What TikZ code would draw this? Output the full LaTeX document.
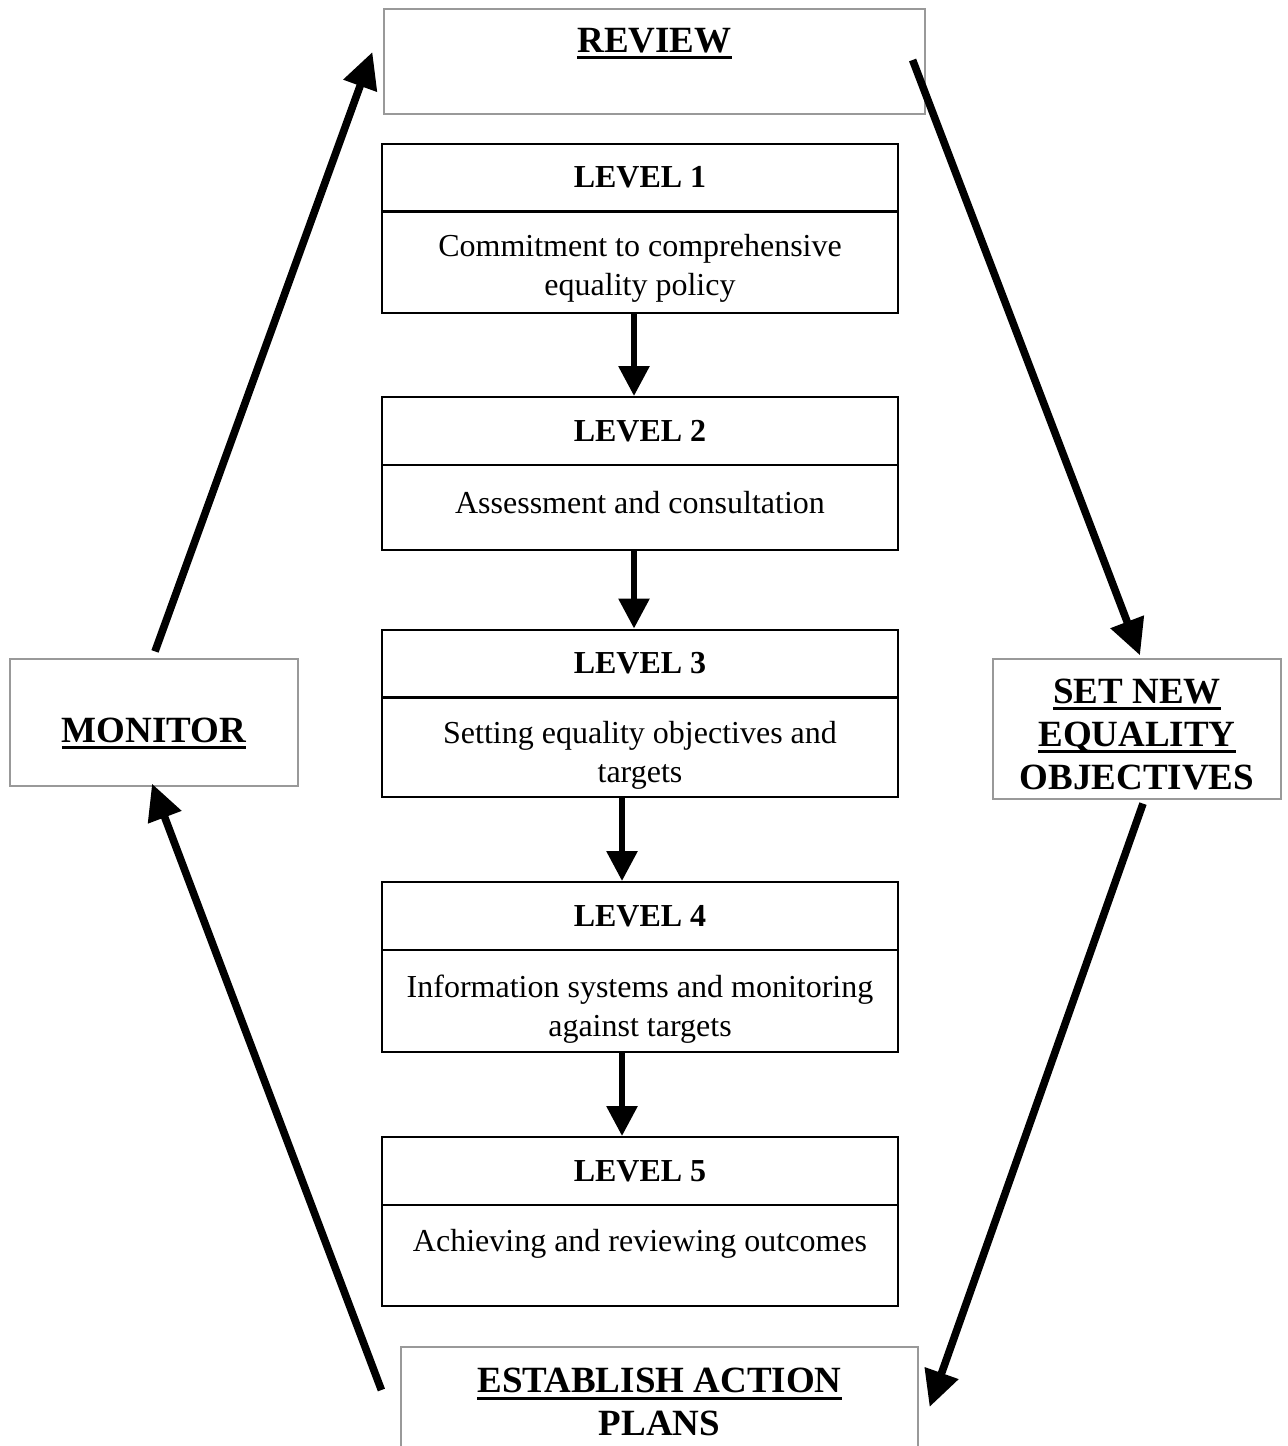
\documentclass[tikz,border=0pt]{standalone}
\usepackage{fontspec}
\setmainfont{Liberation Serif}
\usetikzlibrary{arrows.meta}
\newcommand{\ulword}[1]{\setbox0=\hbox{#1}\rlap{\copy0}\rule[-3.5pt]{\wd0}{1.5pt}}

\begin{document}
\begin{tikzpicture}[x=0.5pt,y=-0.5pt,>={Triangle[length=15pt,width=15pt]},
    outerbox/.style={draw=gray!80,line width=0.6pt,inner sep=0pt,align=center,font=\fontsize{18.5}{21.5}\selectfont\bfseries},
    lvhead/.style={draw,line width=1pt,inner sep=0pt,minimum width=258pt,minimum height=34pt,font=\fontsize{16}{19.5}\selectfont\bfseries},
    lvbody/.style={draw,line width=1pt,inner sep=0pt,minimum width=258pt,align=center,font=\fontsize{16}{19.5}\selectfont},
    stepline/.style={->,line width=3pt},
    loopline/.style={->,line width=3.8pt,>={Triangle[length=18pt,width=17pt]}}]
    \clip (0,0) rectangle (1288,1446);
    \useasboundingbox (0,0) rectangle (1288,1446);

    \node[outerbox,minimum width=270.5pt,minimum height=52.5pt] (review) at (654.5,61.5) {\ulword{REVIEW}\\\mbox{}};
    \node[outerbox,minimum width=144pt,minimum height=63.5pt,text height=23.3pt,text depth=3.5pt] (monitor) at (154,722.5) {\ulword{MONITOR}};
    \node[outerbox,minimum width=144pt,minimum height=70pt] (setnew) at (1137,729) {\rule{0pt}{17.3pt}\ulword{SET NEW}\\\ulword{EQUALITY}\\OBJECTIVES};
    \node[outerbox,minimum width=258.5pt,minimum height=59pt] (establish) at (659.5,1406) {\ulword{ESTABLISH ACTION}\\PLANS\rule[-4pt]{0pt}{4pt}};

    % levels
    \node[lvhead] (lv1t) at (640,177.5) {LEVEL 1};
    \node[lvbody,minimum height=51pt] (lv1b) at (640,262) {\rule{0pt}{17pt}Commitment to comprehensive\\equality policy};
    \node[lvhead] (lv2t) at (640,431) {LEVEL 2};
    \node[lvbody,minimum height=42.5pt] (lv2b) at (640,507.5) {Assessment and consultation\rule[-5pt]{0pt}{5pt}};
    \node[lvhead] (lv3t) at (640,663.5) {LEVEL 3};
    \node[lvbody,minimum height=50pt] (lv3b) at (640,747) {\rule{0pt}{19pt}Setting equality objectives and\\targets};
    \node[lvhead] (lv4t) at (640,916) {LEVEL 4};
    \node[lvbody,minimum height=51pt] (lv4b) at (640,1001) {\rule{0pt}{19pt}Information systems and monitoring\\against targets};
    \node[lvhead] (lv5t) at (640,1171) {LEVEL 5};
    \node[lvbody,minimum height=50.5pt] (lv5b) at (640,1255.5) {\rule{0pt}{15pt}Achieving and reviewing outcomes\\\mbox{}};

    \draw[stepline] ([shift={(-6,0)}]lv1b.south) -- ([shift={(-6,0)}]lv2t.north);
    \draw[stepline] ([shift={(-6,0)}]lv2b.south) -- ([shift={(-6,0)}]lv3t.north);
    \draw[stepline] ([shift={(-18,0)}]lv3b.south) -- ([shift={(-18,0)}]lv4t.north);
    \draw[stepline] ([shift={(-18,0)}]lv4b.south) -- ([shift={(-18,0)}]lv5t.north);

    % the cycle
    \draw[loopline] ([shift={(1,-7)}]monitor.north) -- ([shift={(-11,-9.5)}]review.west);
    \draw[loopline] ([shift={(-13,-1.5)}]review.east) -- ([shift={(3,-3)}]setnew.north);
    \draw[loopline] ([shift={(6,4)}]setnew.south) -- ([shift={(11,1)}]establish.east);
    \draw[loopline] ([shift={(-19,-16)}]establish.west) -- ([shift={(-2,-3)}]monitor.south);
\end{tikzpicture}
\end{document}
